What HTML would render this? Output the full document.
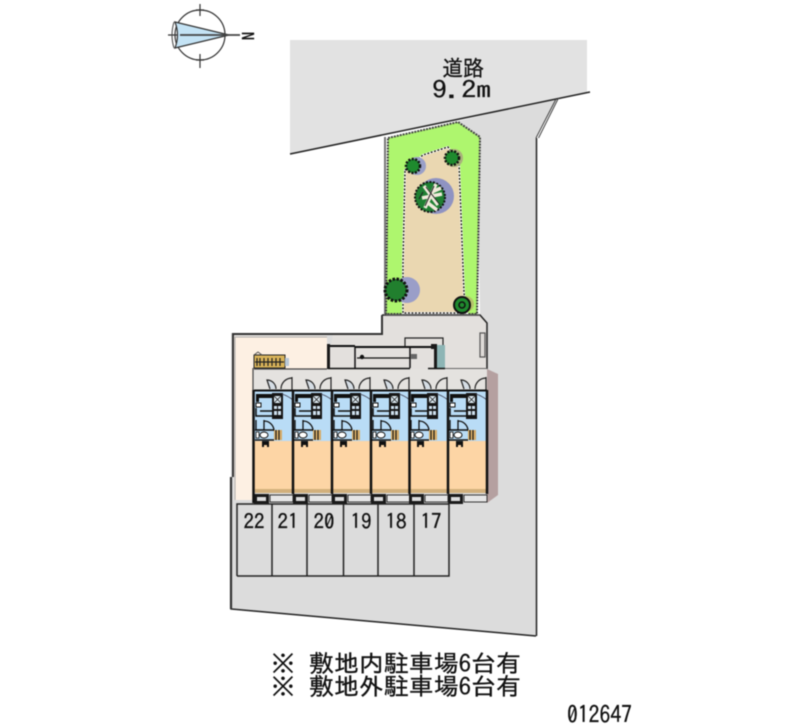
<!DOCTYPE html>
<html>
<head>
<meta charset="utf-8">
<style>
html,body{margin:0;padding:0;background:#fff;width:800px;height:727px;overflow:hidden}
svg{display:block;filter:blur(0.45px)}
text{font-family:"IPAGothic","Liberation Sans","Noto Sans CJK JP",sans-serif;fill:#111;stroke:#111;stroke-width:0.3px}
</style>
</head>
<body>
<svg width="800" height="727" viewBox="0 0 800 727" xmlns="http://www.w3.org/2000/svg">
<defs>
<g id="unit">
  <rect x="0" y="390" width="39" height="51" fill="#b9dcf6"/>
  <rect x="0" y="441" width="39" height="50" fill="#fdd5a5"/>
  <rect x="1" y="489" width="38" height="4" fill="#d2b07c"/>
  <rect x="16" y="495" width="23" height="7" fill="#e6e6e6" stroke="#222" stroke-width="0.9"/>
  <rect x="0" y="494" width="15" height="10" fill="#1a1a1a"/>
  <rect x="3" y="497" width="9" height="4" fill="#ddd"/>
  <path d="M38 377 V390 M38 378 A11 11 0 0 0 27 389" fill="none" stroke="#222" stroke-width="1.200"/>
  <path d="M22 389 A9 9 0 0 0 13 380 L16 389" fill="#d5dde4" stroke="#222" stroke-width="1.200"/>
  <path d="M0 394 H19 V398 H5 V402 H2 V394Z" fill="#111"/>
  <rect x="18" y="393" width="11" height="26" fill="#151515"/>
  <rect x="20" y="396" width="7" height="7" fill="#dbe8f0"/>
  <path d="M20 396 L27 403 M27 396 L20 403" stroke="#222" stroke-width="0.8"/>
  <rect x="20" y="406" width="3" height="3" fill="#cfe0ee"/>
  <rect x="24" y="406" width="3" height="3" fill="#cfe0ee"/>
  <rect x="20" y="411" width="3" height="4" fill="#cfe0ee"/>
  <rect x="24" y="411" width="3" height="4" fill="#cfe0ee"/>
  <rect x="2" y="403" width="5" height="4" fill="#fff" stroke="#111" stroke-width="1"/>
  <path d="M2 408 V416 H19" fill="none" stroke="#111" stroke-width="1.500"/>
  <path d="M6 411 H18" stroke="#111" stroke-width="1.500"/>
  <path d="M28 394 Q34 396 39 400" fill="none" stroke="#445" stroke-width="0.9"/>
  <path d="M2 420 V430 H10 V420 M10 421 A10 10 0 0 1 20 431" fill="none" stroke="#111" stroke-width="1.300"/>
  <path d="M1 430 H20 M1 440 H20" stroke="#111" stroke-width="1.500"/>
  <ellipse cx="10" cy="435" rx="4" ry="3" fill="#fff" stroke="#111" stroke-width="1"/>
  <rect x="2" y="432" width="3" height="6" fill="#fff" stroke="#111" stroke-width="0.8"/>
  <rect x="20" y="430" width="8" height="10" fill="#d5ab68"/>
  <path d="M22 430 V440 M25 430 V440" stroke="#111" stroke-width="1.100"/>
  <path d="M8 441 H15 V447 H13 V445 H10 V447 H8Z" fill="#111"/>
</g>
</defs>

<!-- road -->
<polygon points="290,40 587,40 587,92 290,154" fill="#e2e2e2"/>
<!-- site -->
<polygon points="382,315 480,315 477,137 458,121 558,98 536,138 536,636 231,609 231,333 382,334" fill="#dcdcdc"/>
<polygon points="333,334 382,334 382,315 480,315 487,323 487,369 327,369" fill="#e3e0dd"/>
<!-- cream -->
<polygon points="234,336 327,336 327,369 253,369 253,500 234,500" fill="#fdf0e3"/>
<rect x="254" y="369" width="233" height="21" fill="#e4e2df"/>
<!-- outlines -->
<path d="M290 154 L590 92" stroke="#222" stroke-width="1.500" fill="none"/>
<path d="M536 138 L556 99 M538.500 138 L558.500 98" stroke="#444" stroke-width="1" fill="none"/>
<path d="M536.500 636 V138" stroke="#222" stroke-width="1.500" fill="none"/>
<path d="M536 636 L231 609 V477" stroke="#222" stroke-width="1.500" fill="none"/>
<path d="M382 315 H480 L487 323 V369" stroke="#222" stroke-width="1.500" fill="none"/>
<path d="M382 315 V334 H233 V477" stroke="#333" stroke-width="2" fill="none"/>
<path d="M235 500 V337 H327" stroke="#aaa" stroke-width="1" fill="none"/>
<path d="M231 477 V609" stroke="#333" stroke-width="2.200" fill="none"/>
<path d="M385 137 V315" stroke="#777" stroke-width="2" fill="none"/>

<!-- green -->
<polygon points="388,138 458,122 480,137 477,314 386,314" fill="#aef66e" stroke="#444" stroke-width="2" stroke-dasharray="2 1"/>
<polygon points="405,170 423,155 448,147 459,163 464,293 467,313 403,313 403,263" fill="#ead7b1" stroke="#fff" stroke-width="2"/>
<polygon points="405,170 423,155 448,147 459,163 464,293 467,313 403,313 403,263" fill="none" stroke="#111" stroke-width="1.300" stroke-dasharray="2 1.500"/>
<path d="M386 315 H480" stroke="#555" stroke-width="1.500"/>

<!-- trees -->
<circle cx="417" cy="166" r="9" fill="#9aa0c8"/>
<circle cx="454" cy="158" r="9" fill="#a9b07c"/>
<circle cx="413" cy="166" r="7" fill="#1f8a2e" stroke="#111" stroke-width="2.500" stroke-dasharray="2 1.500"/>
<circle cx="452" cy="158" r="7" fill="#1f8a2e" stroke="#111" stroke-width="2.500" stroke-dasharray="2 1.500"/>
<circle cx="436" cy="196" r="18" fill="#8f93c2"/>
<circle cx="430" cy="197" r="15" fill="#1f7f32" stroke="#111" stroke-width="2" stroke-dasharray="2 1.500"/>
<path d="M424 186 L438 205 M436 184 L425 208 M422 198 L442 194 M432 192 L441 188 M428 203 L437 210" stroke="#f1eadb" stroke-width="3.500" fill="none"/>
<path d="M426 187 L440 205 M434 186 L425 206 M423 192 L419 199" stroke="#222" stroke-width="1" fill="none"/>
<circle cx="407" cy="290" r="13" fill="#9a9ec8"/>
<circle cx="396" cy="290" r="11" fill="#217f2e" stroke="#111" stroke-width="3" stroke-dasharray="2.500 1.500"/>
<circle cx="466" cy="304" r="8" fill="#b5c26c"/>
<circle cx="462" cy="305" r="8" fill="#1f8a2e" stroke="#111" stroke-width="2"/>
<circle cx="462" cy="305" r="3" fill="none" stroke="#111" stroke-width="1.500"/>

<!-- entrance -->
<path d="M405 346 V338 H443 V346" fill="none" stroke="#222" stroke-width="1.200"/>
<rect x="437" y="345" width="8" height="23" fill="#8db5b5"/>
<path d="M328 346 H355 M355 347 H410 M410 347 H434" stroke="#111" stroke-width="2" fill="none"/>
<path d="M355 347 V368 M410 347 V368" stroke="#111" stroke-width="1.500" fill="none"/>
<path d="M357 358 H410" stroke="#111" stroke-width="1.200"/>
<circle cx="362" cy="357" r="2.200" fill="#111"/>
<rect x="327" y="344" width="3" height="25" fill="#1a1a1a"/>
<rect x="434" y="346" width="3" height="22" fill="#1a1a1a"/>
<rect x="431" y="344" width="6" height="5" fill="#1a1a1a"/>
<rect x="411" y="354" width="6" height="5" fill="#666"/>
<path d="M328 368.500 H410 M428 368.500 H445" stroke="#111" stroke-width="1.500"/>
<path d="M445 368.500 H487" stroke="#666" stroke-width="1"/>
<rect x="480" y="333" width="5" height="24" fill="#dedbd8" stroke="#555" stroke-width="1.200"/>

<!-- meter box -->
<rect x="254" y="355" width="31" height="13" fill="#d9b45a" stroke="#222" stroke-width="1"/>
<path d="M257 358 V366 M260 358 V366 M264 358 V366 M268 358 V366 M272 358 V366 M276 358 V366 M280 358 V366 M255 362 H284" stroke="#222" stroke-width="1.200"/>
<path d="M254 355 L258 352 L262 355" fill="none" stroke="#555" stroke-width="1"/>
<rect x="285" y="358" width="4" height="8" fill="#b8c8d8"/>

<!-- building -->
<path d="M254 369 H327 M253 368 V390" stroke="#444" stroke-width="1.200" fill="none"/>
<polygon points="487,369 498,374 498,495 487,503" fill="#b5a0a0"/>
<use href="#unit" x="254"/>
<use href="#unit" x="293"/>
<use href="#unit" x="332"/>
<use href="#unit" x="371"/>
<use href="#unit" x="409"/>
<use href="#unit" x="448"/>
<path d="M253.500 390 V503 M293 390 V494 M332 390 V494 M371 390 V494 M409.500 390 V494 M448 390 V494 M487 390 V494" stroke="#111" stroke-width="2.500" fill="none"/>
<path d="M254 390.500 H487" stroke="#111" stroke-width="2"/>

<!-- parking -->
<g fill="none" stroke="#222" stroke-width="1.500">
<path d="M237 576 V504 H449 V576 H237"/>
<path d="M272 504 V576 M307 504 V576 M343.500 504 V576 M378 504 V576 M414 504 V576"/>
</g>
<g font-size="21" text-anchor="middle">
<text x="254" y="529">22</text>
<text x="288" y="529">21</text>
<text x="324" y="529">20</text>
<text x="361" y="529">19</text>
<text x="396" y="529">18</text>
<text x="431" y="529">17</text>
</g>

<!-- road label -->
<text x="442" y="76" font-size="22" textLength="42" lengthAdjust="spacingAndGlyphs">道路</text>
<text x="432" y="98" font-size="24" textLength="59" lengthAdjust="spacingAndGlyphs">9.2m</text>

<!-- notes -->
<text x="271" y="672" font-size="24">※</text>
<text x="309" y="672" font-size="24" textLength="212" lengthAdjust="spacingAndGlyphs">敷地内駐車場6台有</text>
<text x="271" y="695" font-size="24">※</text>
<text x="309" y="695" font-size="24" textLength="212" lengthAdjust="spacingAndGlyphs">敷地外駐車場6台有</text>
<text x="567" y="723" font-size="24" textLength="65" lengthAdjust="spacingAndGlyphs">012647</text>

<!-- compass -->
<g fill="none" stroke="#333" stroke-width="1.200">
<circle cx="200" cy="35" r="25"/>
<path d="M200 4 V16 M200 54 V68 M168 35 H181"/>
<path d="M196 10 H204 M196 60 H204"/>
</g>
<path d="M175 22 L229 35 L175 48 Q180 35 175 22Z" fill="#c4e3f5" stroke="#333" stroke-width="1.200"/>
<path d="M180 35 H240" stroke="#444" stroke-width="1.800"/>
<path d="M174 22 Q170 35 174 48" fill="none" stroke="#444" stroke-width="1"/>
<text x="0" y="0" font-size="17" text-anchor="middle" transform="translate(241,36) rotate(90)">N</text>
</svg>
</body>
</html>
